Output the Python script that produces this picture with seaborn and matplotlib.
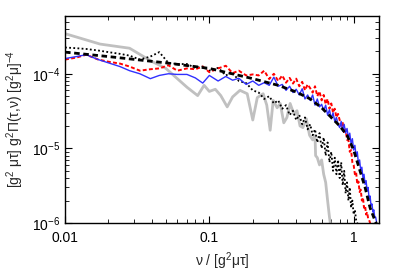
import matplotlib
matplotlib.use('Agg')
import matplotlib.pyplot as plt
import matplotlib.ticker as mticker
import numpy as np
import pandas as pd
import seaborn as sns

# values are in units of 1e-5
SCALE = 1e-5

# common momentum grid for the lattice curves
nu_grid = [0.010, 0.012, 0.014, 0.017, 0.020, 0.024, 0.028, 0.033, 0.039, 0.045,
           0.052, 0.060, 0.070, 0.080, 0.090, 0.100, 0.115, 0.130, 0.145, 0.160,
           0.180, 0.200,
           0.22, 0.24, 0.26, 0.28, 0.30, 0.32, 0.34, 0.36, 0.38, 0.40,
           0.42, 0.44, 0.46, 0.48, 0.50, 0.52, 0.54, 0.56, 0.58, 0.60,
           0.62, 0.64, 0.66, 0.68, 0.70, 0.72, 0.74, 0.76, 0.78, 0.80,
           0.82, 0.84, 0.86, 0.88, 0.90, 0.92, 0.94, 0.96, 0.98, 1.00,
           1.02, 1.04, 1.06, 1.08, 1.10, 1.12, 1.14, 1.16, 1.18, 1.20,
           1.22, 1.24, 1.26, 1.28, 1.30, 1.32, 1.34, 1.36, 1.38, 1.40,
           1.42, 1.44]

blue_vals = [16.0, 17.0, 18.0, 15.5, 14.0, 12.5, 11.0, 10.0, 8.6, 9.5,
             10.0, 9.8, 9.8, 8.8, 7.5, 9.5, 8.0, 9.2, 8.2, 8.7,
             7.2, 8.0,
             7.0, 7.6, 7.0, 9.0, 6.8, 7.2, 6.0, 6.8, 5.6, 6.2,
             5.2, 6.3, 4.6, 5.2, 4.4, 5.2, 3.8, 4.6, 3.6, 3.9,
             3.2, 3.8, 2.8, 3.3, 2.5, 3.0, 2.3, 2.6, 2.1, 1.9,
             2.3, 1.7, 2.1, 1.6, 1.85, 1.4, 1.6, 1.15, 1.35, 0.95,
             1.1, 0.8, 0.9, 0.62, 0.7, 0.5, 0.56, 0.4, 0.45, 0.33,
             0.37, 0.27, 0.3, 0.21, 0.23, 0.17, 0.18, 0.14, 0.15, 0.12,
             0.12, 0.105]

red_vals = [15.5, 16.5, 18.0, 15.5, 14.5, 13.7, 12.5, 11.0, 11.5, 11.8,
            13.0, 11.0, 11.8, 11.5, 12.5, 10.5, 11.8, 12.8, 10.2, 11.0,
            9.5, 9.8,
            9.5, 11.0, 8.5, 10.0, 8.0, 9.5, 7.6, 8.8, 7.4, 8.6,
            6.8, 7.8, 6.0, 7.2, 6.4, 5.6, 6.8, 5.0, 5.8, 4.4,
            5.2, 3.9, 4.6, 3.4, 4.0, 3.0, 3.4, 2.6, 2.9, 2.4,
            2.0, 2.2, 1.6, 1.8, 1.3, 1.3, 0.9, 0.95, 0.65, 0.6,
            0.45, 0.48, 0.33, 0.36, 0.26, 0.28, 0.2, 0.22, 0.16, 0.17,
            0.13, 0.14, 0.115, 0.11, 0.1, 0.095, 0.085, 0.075, 0.065, 0.055,
            0.05, 0.045]

dotted_vals = [22.5, 22.0, 21.5, 20.5, 19.5, 18.5, 17.5, 15.5, 17.0, 19.5,
               14.0, 13.5, 13.5, 12.0, 12.5, 11.0, 12.0, 9.5, 10.5, 8.0,
               7.5, 6.0,
               5.6, 4.6, 5.0, 4.0, 4.4, 3.4, 3.8, 2.8, 3.2, 2.4,
               2.8, 2.1, 2.6, 1.8, 2.1, 1.5, 1.8, 1.2, 1.6, 1.0,
               1.4, 0.8, 1.2, 0.65, 0.9, 0.5, 0.75, 0.45, 0.7, 0.4,
               0.65, 0.32, 0.5, 0.25, 0.35, 0.2, 0.3, 0.16, 0.2, 0.13,
               0.15, 0.11, 0.1, 0.09, 0.08, 0.07, 0.065, 0.06, 0.05, 0.045,
               0.04, 0.035, 0.03, 0.03, 0.025, 0.025, 0.02, 0.02, 0.02, 0.02,
               0.02, 0.02]

# smooth reference curve (thick dashed black)
nu_fit = [0.01, 0.02, 0.05, 0.1, 0.2, 0.3, 0.4, 0.5, 0.6, 0.7, 0.8, 0.9,
          1.0, 1.1, 1.2, 1.3, 1.4, 1.45]
fit_vals = [19.5, 17.0, 14.0, 11.8, 8.6, 7.0, 5.7, 4.6, 3.5, 2.6, 2.0, 1.5,
            0.95, 0.52, 0.3, 0.16, 0.11, 0.095]

# light gray curve
nu_gray = [0.010, 0.0175, 0.028, 0.039, 0.050, 0.060, 0.070, 0.083, 0.092, 0.100,
           0.110, 0.120, 0.133, 0.145, 0.163, 0.183, 0.200, 0.215, 0.236, 0.250,
           0.264, 0.277, 0.295, 0.310, 0.328, 0.345, 0.363, 0.385, 0.405, 0.425,
           0.445, 0.470, 0.495, 0.520, 0.540, 0.545, 0.560, 0.580, 0.600, 0.620,
           0.640, 0.660, 0.680, 0.700]
gray_vals = [34.5, 25.0, 22.0, 15.0, 11.8, 8.6, 6.6, 5.1, 7.0, 5.8,
             6.2, 5.1, 3.6, 4.9, 6.0, 5.4, 2.4, 4.8, 5.4, 3.8,
             1.75, 4.4, 3.5, 4.0, 2.2, 2.6, 4.0, 2.9, 3.2, 2.0,
             1.9, 2.5, 1.5, 1.3, 1.5, 0.8, 0.75, 0.6, 0.7, 0.45,
             0.35, 0.2, 0.12, 0.08]

sns.set_theme(style='ticks')
plt.rcParams['font.family'] = ['Liberation Sans', 'DejaVu Sans']
plt.rcParams['mathtext.fontset'] = 'custom'
plt.rcParams['mathtext.rm'] = 'Liberation Sans'
plt.rcParams['mathtext.it'] = 'Liberation Sans'

fig = plt.figure(figsize=(3.99, 2.79), dpi=100)
ax = fig.add_axes([0.163, 0.2007, 0.787, 0.743])

def draw(nu, vals, **kw):
    df = pd.DataFrame({'nu': nu, 'v': np.array(vals) * SCALE})
    sns.lineplot(data=df, x='nu', y='v', ax=ax, sort=False, estimator=None, **kw)

draw(nu_gray, gray_vals, color='#c0c0c0', lw=2.0)
draw(nu_grid, dotted_vals, color='black', lw=1.3, ls=(0, (1, 1.3)))
draw(nu_grid, red_vals, color='#ff0000', lw=1.4, ls=(0, (2, 1.2)))
draw(nu_grid, blue_vals, color='#3030ff', lw=1.0)
draw(nu_fit, fit_vals, color='black', lw=2.0, ls=(0, (2, 1.3)))

ax.set_xscale('log')
ax.set_yscale('log')
ax.set_xlim(0.01, 1.5)
ax.set_ylim(1e-6, 6e-4)

ax.xaxis.set_major_formatter(mticker.FuncFormatter(lambda v, p: {0.01: '0.01', 0.1: '0.1', 1.0: '1'}.get(round(v, 3), '')))
ax.xaxis.set_minor_formatter(mticker.NullFormatter())
ax.tick_params(which='both', direction='in', top=True, right=True, colors='black', labelsize=10)
ax.tick_params(which='major', length=5, width=0.8)
ax.tick_params(which='minor', length=3, width=0.6)
ax.tick_params(axis='x', pad=6)
for s in ax.spines.values():
    s.set_color('black')
    s.set_linewidth(1.0)

ax.set_xlabel(r'ν / [g$^2$μτ]', fontsize=10, labelpad=4)
ax.set_ylabel(r'[g$^2$ μτ] g$^2$Π(τ,ν) [g$^2$μ]$^{-4}$', fontsize=10, labelpad=4)

fig.savefig('out.png', dpi=100)
